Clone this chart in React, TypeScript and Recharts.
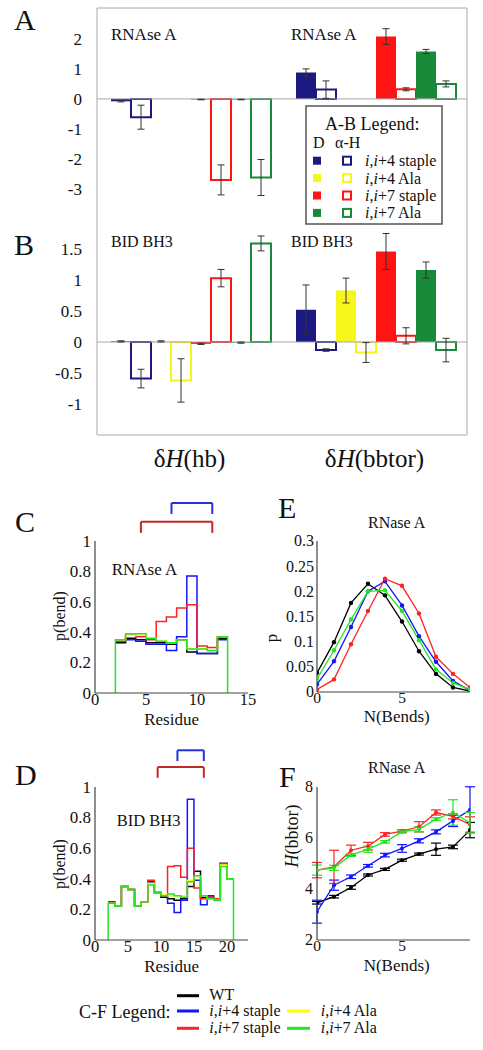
import React from 'react';
import { BarChart, Bar, LineChart, Line, XAxis, YAxis, ErrorBar, ReferenceLine } from 'recharts';

const FONT = '"Liberation Serif", "Times New Roman", Times, serif';
const INK = '#111';
const GRID = '#a8a8a8';
const FRAME = '#444';

// ---------------- Panels A / B (bar data) ----------------
const barCategories = ['hb', 'bbtor'];
const barKeys = ['i4StapleD', 'i4StapleH', 'i4AlaD', 'i4AlaH', 'i7StapleD', 'i7StapleH', 'i7AlaD', 'i7AlaH'];
const barColors = ['#1c1a80', '#1c1a80', '#f6f61a', '#f6f61a', '#ff1414', '#ff1414', '#188a3a', '#188a3a'];

// RNAse A (panel A)
const rnaseI4StapleD = [-0.08, 0.88];
const rnaseI4StapleDErr = [0.02, 0.12];
const rnaseI4StapleH = [-0.61, 0.31];
const rnaseI4StapleHErr = [0.4, 0.29];
const rnaseI4AlaD = [null, null];
const rnaseI4AlaDErr = [null, null];
const rnaseI4AlaH = [null, null];
const rnaseI4AlaHErr = [null, null];
const rnaseI7StapleD = [-0.02, 2.08];
const rnaseI7StapleDErr = [0.01, 0.26];
const rnaseI7StapleH = [-2.7, 0.32];
const rnaseI7StapleHErr = [0.5, 0.05];
const rnaseI7AlaD = [-0.02, 1.58];
const rnaseI7AlaDErr = [0.01, 0.07];
const rnaseI7AlaH = [-2.62, 0.5];
const rnaseI7AlaHErr = [0.6, 0.1];

// BID BH3 (panel B)
const bidI4StapleD = [0.01, 0.52];
const bidI4StapleDErr = [0.01, 0.4];
const bidI4StapleH = [-0.59, -0.13];
const bidI4StapleHErr = [0.15, 0.02];
const bidI4AlaD = [0.01, 0.83];
const bidI4AlaDErr = [0.01, 0.2];
const bidI4AlaH = [-0.62, -0.17];
const bidI4AlaHErr = [0.35, 0.16];
const bidI7StapleD = [-0.03, 1.46];
const bidI7StapleDErr = [0.01, 0.29];
const bidI7StapleH = [1.03, 0.1];
const bidI7StapleHErr = [0.14, 0.13];
const bidI7AlaD = [-0.01, 1.16];
const bidI7AlaDErr = [0.01, 0.13];
const bidI7AlaH = [1.59, -0.13];
const bidI7AlaHErr = [0.12, 0.19];

const aTicks = [-3, -2, -1, 0, 1, 2];
const bTicks = [-1, -0.5, 0, 0.5, 1, 1.5];

// ---------------- Panels C / D (p(bend) per residue) ----------------
const cStart = 2;
const cWT = [0.33, 0.36, 0.35, 0.33, 0.33, 0.32, 0.35, 0.27, 0.26, 0.26, 0.36];
const cI4Staple = [0.34, 0.35, 0.34, 0.32, 0.32, 0.28, 0.37, 0.77, 0.26, 0.26, 0.35];
const cI7Staple = [0.34, 0.38, 0.37, 0.35, 0.47, 0.5, 0.56, 0.58, 0.31, 0.3, 0.37];
const cI4Ala = [0.35, 0.38, 0.38, 0.36, 0.34, 0.33, 0.35, 0.29, 0.29, 0.28, 0.37];
const cI7Ala = [0.35, 0.39, 0.39, 0.36, 0.34, 0.33, 0.35, 0.29, 0.29, 0.28, 0.37];

const dStart = 2;
const dWT = [0.24, 0.22, 0.35, 0.33, 0.22, 0.25, 0.38, 0.31, 0.28, 0.27, 0.26, 0.27, 0.35, 0.45, 0.28, 0.28, 0.27, 0.5, 0.4];
const dI4Staple = [0.25, 0.22, 0.35, 0.33, 0.22, 0.25, 0.38, 0.31, 0.29, 0.24, 0.18, 0.26, 0.92, 0.39, 0.23, 0.29, 0.27, 0.5, 0.4];
const dI7Staple = [0.24, 0.22, 0.35, 0.33, 0.22, 0.25, 0.39, 0.31, 0.29, 0.48, 0.485, 0.41, 0.6, 0.34, 0.27, 0.28, 0.27, 0.5, 0.4];
const dI4Ala = [0.24, 0.22, 0.35, 0.33, 0.22, 0.25, 0.37, 0.31, 0.3, 0.29, 0.29, 0.29, 0.39, 0.41, 0.29, 0.27, 0.26, 0.49, 0.4];
const dI7Ala = [0.24, 0.22, 0.35, 0.33, 0.22, 0.25, 0.36, 0.31, 0.29, 0.3, 0.29, 0.28, 0.38, 0.42, 0.29, 0.27, 0.26, 0.48, 0.4];

// staple brackets (residue ranges)
const cBracketI4 = [7.5, 11.5];
const cBracketI7 = [4.5, 11.5];
const dBracketI4 = [12.5, 16.5];
const dBracketI7 = [9.5, 16.5];

// ---------------- Panel E (p vs N(Bends)) ----------------
const nBends = [0, 1, 2, 3, 4, 5, 6, 7, 8, 9];
const eWT = [0.038, 0.099, 0.177, 0.215, 0.192, 0.14, 0.081, 0.036, 0.009, 0.002];
const eI4Staple = [0.015, 0.061, 0.129, 0.2, 0.22, 0.172, 0.111, 0.06, 0.022, 0.003];
const eI7Staple = [0.005, 0.025, 0.095, 0.161, 0.225, 0.211, 0.156, 0.07, 0.036, 0.009];
const eI7Ala = [0.026, 0.083, 0.144, 0.2, 0.202, 0.161, 0.103, 0.045, 0.018, 0.005];

// ---------------- Panel F (H(bbtor) vs N(Bends)) ----------------
const fWT = [3.46, 3.7, 4.06, 4.55, 4.77, 5.13, 5.37, 5.56, 5.65, 6.31];
const fWTErr = [0.05, 0.05, 0.07, 0.04, 0.04, 0.04, 0.04, 0.24, 0.07, 0.3];
const fI4Staple = [3.11, 4.15, 4.48, 4.91, 5.33, 5.59, 5.89, 6.24, 6.67, 7.11];
const fI4StapleErr = [0.45, 0.2, 0.07, 0.05, 0.07, 0.15, 0.08, 0.08, 0.22, 0.9];
const fI7Staple = [4.74, 4.87, 5.52, 5.68, 6.14, 6.27, 6.44, 7.0, 6.85, 6.53];
const fI7StapleErr = [0.3, 0.65, 0.2, 0.15, 0.07, 0.05, 0.2, 0.1, 0.1, 0.3];
const fI7Ala = [4.74, 4.83, 5.33, 5.56, 5.85, 6.24, 6.34, 6.74, 7.0, 6.6];
const fI7AlaErr = [0.2, 0.1, 0.05, 0.12, 0.05, 0.04, 0.1, 0.05, 0.5, 0.4];

const C_BLACK = '#000000';
const C_BLUE = '#1414ff';
const C_RED = '#ff2222';
const C_YELLOW = '#ffff00';
const C_GREEN = '#22e622';
const BR_BLUE = '#2233dd';
const BR_RED = '#c0282c';

// ---------------- builders ----------------
function buildBarRows(values: (number | null)[][], errors: (number | null)[][]) {
  return barCategories.map((cat, i) => {
    const row: Record<string, any> = { cat };
    barKeys.forEach((k, j) => {
      row[k] = values[j][i];
      row[k + 'Err'] = errors[j][i];
    });
    return row;
  });
}

const rowsA = buildBarRows(
  [rnaseI4StapleD, rnaseI4StapleH, rnaseI4AlaD, rnaseI4AlaH, rnaseI7StapleD, rnaseI7StapleH, rnaseI7AlaD, rnaseI7AlaH],
  [rnaseI4StapleDErr, rnaseI4StapleHErr, rnaseI4AlaDErr, rnaseI4AlaHErr, rnaseI7StapleDErr, rnaseI7StapleHErr, rnaseI7AlaDErr, rnaseI7AlaHErr]
);
const rowsB = buildBarRows(
  [bidI4StapleD, bidI4StapleH, bidI4AlaD, bidI4AlaH, bidI7StapleD, bidI7StapleH, bidI7AlaD, bidI7AlaH],
  [bidI4StapleDErr, bidI4StapleHErr, bidI4AlaDErr, bidI4AlaHErr, bidI7StapleDErr, bidI7StapleHErr, bidI7AlaDErr, bidI7AlaHErr]
);

// histogram outline; only the top-most series closes down to zero at its ends
function stepPoints(start: number, vals: number[], closed: boolean) {
  const pts: { x: number; y: number }[] = [];
  if (closed) pts.push({ x: start, y: 0 });
  vals.forEach((v, i) => pts.push({ x: start + i, y: v }));
  pts.push({ x: start + vals.length, y: vals[vals.length - 1] });
  if (closed) pts.push({ x: start + vals.length, y: 0 });
  return pts;
}

const eRows = nBends.map((n, i) => ({ n, wt: eWT[i], i4s: eI4Staple[i], i7s: eI7Staple[i], i7a: eI7Ala[i] }));
const fRows = nBends.map((n, i) => ({
  n,
  wt: fWT[i], wtErr: fWTErr[i],
  i4s: fI4Staple[i], i4sErr: fI4StapleErr[i],
  i7s: fI7Staple[i], i7sErr: fI7StapleErr[i],
  i7a: fI7Ala[i], i7aErr: fI7AlaErr[i],
}));

function renderBars() {
  return barKeys.map((k, j) => {
    const open = k.endsWith('H');
    return (
      <Bar
        key={k}
        dataKey={k}
        fill={open ? '#ffffff' : barColors[j]}
        stroke={open ? barColors[j] : 'none'}
        strokeWidth={open ? 2 : 0}
        isAnimationActive={false}
      >
        <ErrorBar dataKey={k + 'Err'} width={3.5} stroke="#333" strokeWidth={1} direction="y" />
      </Bar>
    );
  });
}

const txtStyle = (fontSize: number): React.CSSProperties => ({ fontFamily: FONT, fontSize, fill: INK });

const yTick = (fontSize: number) => (props: any) => {
  const { x, y, payload } = props;
  return (
    <text x={x} y={y} dy={fontSize * 0.34} textAnchor="end" style={txtStyle(fontSize)}>
      {String(payload.value)}
    </text>
  );
};
const xTick = (fontSize: number) => (props: any) => {
  const { x, y, payload } = props;
  return (
    <text x={x} y={y} dy={fontSize * 0.7} textAnchor="middle" style={txtStyle(fontSize)}>
      {String(payload.value)}
    </text>
  );
};

const HTick = (props: any) => {
  const { x, y, payload } = props;
  return (
    <text x={x} y={y} dy={32} textAnchor="middle" style={txtStyle(25)}>
      δ<tspan style={{ fontStyle: 'italic' }}>H</tspan>({payload.value})
    </text>
  );
};

function frameAxes(
  xDomain: [number, number],
  yDomain: [number, number],
  xMajor: number[],
  xMinor: number[],
  yMajor: number[],
  yMinor: number[]
) {
  const tl = { stroke: FRAME, strokeWidth: 1 };
  const al = { stroke: FRAME, strokeWidth: 1.2 };
  const xa = (id: string, orientation: 'top' | 'bottom', ticks: number[], size: number, line: boolean) => (
    <XAxis
      key={id}
      xAxisId={id}
      type="number"
      domain={xDomain}
      allowDataOverflow
      ticks={ticks}
      interval={0}
      orientation={orientation}
      mirror
      height={0}
      tick={false}
      tickSize={size}
      tickLine={tl}
      axisLine={line ? al : false}
    />
  );
  const ya = (id: string, orientation: 'left' | 'right', ticks: number[], size: number, line: boolean) => (
    <YAxis
      key={id}
      yAxisId={id}
      type="number"
      domain={yDomain}
      allowDataOverflow
      ticks={ticks}
      interval={0}
      orientation={orientation}
      mirror
      width={0}
      tick={false}
      tickSize={size}
      tickLine={tl}
      axisLine={line ? al : false}
    />
  );
  return [
    xa('bMj', 'bottom', xMajor, 7, false),
    xa('bMn', 'bottom', xMinor, 4, false),
    xa('tMj', 'top', xMajor, 7, true),
    xa('tMn', 'top', xMinor, 4, false),
    ya('lMj', 'left', yMajor, 7, false),
    ya('lMn', 'left', yMinor, 4, false),
    ya('rMj', 'right', yMajor, 7, true),
    ya('rMn', 'right', yMinor, 4, false),
  ];
}

function bracket(key: string, range: number[], top: number, leg: number, color: string) {
  const common = { xAxisId: 'x', yAxisId: 'y', stroke: color, strokeWidth: 2, ifOverflow: 'visible' as const };
  return [
    <ReferenceLine key={key + 'l'} {...common} segment={[{ x: range[0], y: leg }, { x: range[0], y: top }]} />,
    <ReferenceLine key={key + 't'} {...common} segment={[{ x: range[0], y: top }, { x: range[1], y: top }]} />,
    <ReferenceLine key={key + 'r'} {...common} segment={[{ x: range[1], y: top }, { x: range[1], y: leg }]} />,
  ];
}

const rotTitle = (x: number, y: number, content: React.ReactNode, size = 17) => () => (
  <text x={x} y={y} transform={`rotate(-90 ${x} ${y})`} textAnchor="middle" style={txtStyle(size)}>
    {content}
  </text>
);
const flatTitle = (x: number, y: number, content: React.ReactNode, size = 17) => () => (
  <text x={x} y={y} textAnchor="middle" style={txtStyle(size)}>
    {content}
  </text>
);

const frameLine = { stroke: FRAME, strokeWidth: 1.2 };

function stepLines(series: { pts: { x: number; y: number }[]; color: string; name: string }[]) {
  return series.map((s) => (
    <Line
      key={s.name}
      xAxisId="x"
      yAxisId="y"
      data={s.pts}
      dataKey="y"
      name={s.name}
      type="stepAfter"
      stroke={s.color}
      strokeWidth={1.5}
      dot={false}
      isAnimationActive={false}
    />
  ));
}

const yMinorPbend = [0.1, 0.3, 0.5, 0.7, 0.9];
const yMajorPbend = [0, 0.2, 0.4, 0.6, 0.8, 1];

const It = ({ children }: { children: React.ReactNode }) => <tspan style={{ fontStyle: 'italic' }}>{children}</tspan>;
const iLabel = (suffix: string) => (
  <>
    <It>i</It>,<It>i</It>
    {suffix}
  </>
);

const abLegendRows = [
  { color: barColors[0], suffix: '+4 staple' },
  { color: barColors[2], suffix: '+4 Ala' },
  { color: barColors[4], suffix: '+7 staple' },
  { color: barColors[6], suffix: '+7 Ala' },
];

const eSeries = [
  { k: 'wt', c: C_BLACK },
  { k: 'i4s', c: C_BLUE },
  { k: 'i7s', c: C_RED },
  { k: 'i7a', c: C_GREEN },
];

export default function App() {
  return (
    <div style={{ position: 'absolute', left: 0, top: 0, width: 483, height: 1050, background: '#fff', fontFamily: FONT }}>
      {/* Panel A */}
      <div style={{ position: 'absolute', left: 0, top: 0 }}>
        <BarChart width={483} height={219} data={rowsA} margin={{ top: 8, right: 16, bottom: 1, left: 0 }} barCategoryGap={14} barGap={0}>
          <XAxis dataKey="cat" height={0} tick={false} tickLine={false} axisLine={{ stroke: GRID }} />
          <XAxis xAxisId="num" type="number" domain={[0, 2]} allowDataOverflow hide />
          <YAxis
            type="number"
            domain={[-3.97, 3.03]}
            ticks={aTicks}
            interval={0}
            width={97}
            tickSize={0}
            tickMargin={15}
            tickLine={false}
            axisLine={{ stroke: GRID }}
            tick={yTick(17)}
          />
          <ReferenceLine y={0} stroke={GRID} />
          <ReferenceLine y={3.03} stroke={GRID} />
          <ReferenceLine xAxisId="num" x={1} stroke={GRID} />
          <ReferenceLine xAxisId="num" x={2} stroke={GRID} />
          {renderBars()}
        </BarChart>
      </div>

      {/* Panel B */}
      <div style={{ position: 'absolute', left: 0, top: 218 }}>
        <BarChart width={483} height={267} data={rowsB} margin={{ top: 0, right: 16, bottom: 0, left: 0 }} barCategoryGap={14} barGap={0}>
          <XAxis dataKey="cat" height={50} tickSize={0} tickMargin={0} tickLine={false} axisLine={{ stroke: GRID }} tick={HTick} interval={0} />
          <XAxis xAxisId="num" type="number" domain={[0, 2]} allowDataOverflow hide />
          <YAxis
            type="number"
            domain={[-1.5, 2]}
            ticks={bTicks}
            interval={0}
            width={97}
            tickSize={0}
            tickMargin={15}
            tickLine={false}
            axisLine={{ stroke: GRID }}
            tick={yTick(17)}
          />
          <ReferenceLine y={0} stroke={GRID} />
          <ReferenceLine xAxisId="num" x={1} stroke={GRID} />
          <ReferenceLine xAxisId="num" x={2} stroke={GRID} />
          {renderBars()}
        </BarChart>
      </div>

      {/* Panel C */}
      <div style={{ position: 'absolute', left: 0, top: 495 }}>
        <LineChart width={262} height={238} margin={{ top: 46, right: 14, bottom: 0, left: 0 }}>
          {frameAxes([0, 15], [0, 1], [0, 5, 10, 15], [2.5, 7.5, 12.5], yMajorPbend, yMinorPbend)}
          <XAxis
            xAxisId="x"
            dataKey="x"
            type="number"
            domain={[0, 15]}
            allowDataOverflow
            ticks={[0, 5, 10, 15]}
            interval={0}
            height={40}
            tickSize={0}
            tickMargin={0}
            tickLine={false}
            axisLine={frameLine}
            tick={xTick(16.5)}
            label={flatTitle(171.6, 230, 'Residue', 17)}
          />
          <YAxis
            yAxisId="y"
            type="number"
            domain={[0, 1]}
            allowDataOverflow
            ticks={yMajorPbend}
            interval={0}
            width={95}
            tickSize={0}
            tickMargin={4}
            tickLine={false}
            axisLine={frameLine}
            tick={yTick(17)}
            label={rotTitle(64.5, 121, 'p(bend)', 16)}
          />
          {bracket('cb4', cBracketI4, 1.25, 1.178, BR_BLUE)}
          {bracket('cb7', cBracketI7, 1.127, 1.053, BR_RED)}
          {stepLines([
            { name: 'WT', color: C_BLACK, pts: stepPoints(cStart, cWT, false) },
            { name: 'i,i+4 staple', color: C_BLUE, pts: stepPoints(cStart, cI4Staple, false) },
            { name: 'i,i+7 staple', color: C_RED, pts: stepPoints(cStart, cI7Staple, false) },
            { name: 'i,i+4 Ala', color: C_YELLOW, pts: stepPoints(cStart, cI4Ala, false) },
            { name: 'i,i+7 Ala', color: C_GREEN, pts: stepPoints(cStart, cI7Ala, true) },
          ])}
        </LineChart>
      </div>

      {/* Panel D */}
      <div style={{ position: 'absolute', left: 0, top: 745 }}>
        <LineChart width={262} height={235} margin={{ top: 42, right: 14, bottom: 0, left: 0 }}>
          {frameAxes([0, 23.2], [0, 1], [0, 5, 10, 15, 20], [2.5, 7.5, 12.5, 17.5, 22.5], yMajorPbend, yMinorPbend)}
          <XAxis
            xAxisId="x"
            dataKey="x"
            type="number"
            domain={[0, 23.2]}
            allowDataOverflow
            ticks={[0, 5, 10, 15, 20]}
            interval={0}
            height={40}
            tickSize={0}
            tickMargin={0}
            tickLine={false}
            axisLine={frameLine}
            tick={xTick(16.5)}
            label={flatTitle(171.6, 227, 'Residue', 17)}
          />
          <YAxis
            yAxisId="y"
            type="number"
            domain={[0, 1]}
            allowDataOverflow
            ticks={yMajorPbend}
            interval={0}
            width={95}
            tickSize={0}
            tickMargin={4}
            tickLine={false}
            axisLine={frameLine}
            tick={yTick(17)}
            label={rotTitle(64.5, 119, 'p(bend)', 16)}
          />
          {bracket('db4', dBracketI4, 1.24, 1.17, BR_BLUE)}
          {bracket('db7', dBracketI7, 1.13, 1.06, BR_RED)}
          {stepLines([
            { name: 'WT', color: C_BLACK, pts: stepPoints(dStart, dWT, false) },
            { name: 'i,i+4 staple', color: C_BLUE, pts: stepPoints(dStart, dI4Staple, false) },
            { name: 'i,i+7 staple', color: C_RED, pts: stepPoints(dStart, dI7Staple, false) },
            { name: 'i,i+4 Ala', color: C_YELLOW, pts: stepPoints(dStart, dI4Ala, false) },
            { name: 'i,i+7 Ala', color: C_GREEN, pts: stepPoints(dStart, dI7Ala, true) },
          ])}
        </LineChart>
      </div>

      {/* Panel E */}
      <div style={{ position: 'absolute', left: 250, top: 530 }}>
        <LineChart width={233} height={199} data={eRows} margin={{ top: 11, right: 13, bottom: 0, left: 0 }}>
          {frameAxes(
            [0, 9],
            [0, 0.3],
            [0, 5],
            [2.5, 7.5],
            [0, 0.05, 0.1, 0.15, 0.2, 0.25, 0.3],
            [0.025, 0.075, 0.125, 0.175, 0.225, 0.275]
          )}
          <XAxis
            xAxisId="x"
            dataKey="n"
            type="number"
            domain={[0, 9]}
            allowDataOverflow
            ticks={[0, 5]}
            interval={0}
            height={37}
            tickSize={0}
            tickMargin={0}
            tickLine={false}
            axisLine={frameLine}
            tick={xTick(15.5)}
            label={flatTitle(146.7, 192, 'N(Bends)', 17)}
          />
          <YAxis
            yAxisId="y"
            type="number"
            domain={[0, 0.3]}
            allowDataOverflow
            ticks={[0, 0.05, 0.1, 0.15, 0.2, 0.25, 0.3]}
            interval={0}
            width={67}
            tickSize={0}
            tickMargin={3}
            tickLine={false}
            axisLine={frameLine}
            tick={yTick(16)}
            label={rotTitle(27, 108, 'p', 17)}
          />
          {eSeries.map((s) => (
            <Line
              key={s.k}
              xAxisId="x"
              yAxisId="y"
              dataKey={s.k}
              type="linear"
              stroke={s.c}
              strokeWidth={1.3}
              dot={{ r: 2.2, fill: s.c, stroke: s.c, strokeWidth: 0 }}
              isAnimationActive={false}
            />
          ))}
        </LineChart>
      </div>

      {/* Panel F */}
      <div style={{ position: 'absolute', left: 250, top: 775 }}>
        <LineChart width={233} height={203} data={fRows} margin={{ top: 12, right: 13, bottom: 0, left: 0 }}>
          {frameAxes([0, 9], [2, 8], [0, 5], [2.5, 7.5], [2, 4, 6, 8], [3, 5, 7])}
          <XAxis
            xAxisId="x"
            dataKey="n"
            type="number"
            domain={[0, 9]}
            allowDataOverflow
            ticks={[0, 5]}
            interval={0}
            height={38}
            tickSize={0}
            tickMargin={0}
            tickLine={false}
            axisLine={frameLine}
            tick={xTick(15.5)}
            label={flatTitle(146.7, 195.5, 'N(Bends)', 17)}
          />
          <YAxis
            yAxisId="y"
            type="number"
            domain={[2, 8]}
            allowDataOverflow
            ticks={[2, 4, 6, 8]}
            interval={0}
            width={67}
            tickSize={0}
            tickMargin={4}
            tickLine={false}
            axisLine={frameLine}
            tick={yTick(16)}
            label={rotTitle(48, 61, <><It>H</It>(bbtor)</>, 18)}
          />
          {eSeries.map((s) => (
            <Line
              key={s.k}
              xAxisId="x"
              yAxisId="y"
              dataKey={s.k}
              type="linear"
              stroke={s.c}
              strokeWidth={1.3}
              dot={{ r: 2, fill: s.c, stroke: s.c, strokeWidth: 0 }}
              isAnimationActive={false}
            >
              <ErrorBar dataKey={s.k + 'Err'} width={5} stroke={s.c} strokeWidth={1.2} direction="y" />
            </Line>
          ))}
        </LineChart>
      </div>

      {/* Annotations, titles and legends */}
      <svg
        width={483}
        height={1050}
        style={{ position: 'absolute', left: 0, top: 0, pointerEvents: 'none', fontFamily: FONT }}
        fill={INK}
      >
        <text x={14} y={30} fontSize={30}>A</text>
        <text x={14} y={255} fontSize={30}>B</text>
        <text x={15} y={532} fontSize={30}>C</text>
        <text x={15} y={785} fontSize={30}>D</text>
        <text x={278} y={518} fontSize={30}>E</text>
        <text x={279} y={787} fontSize={30}>F</text>

        <text x={111} y={39.5} fontSize={17}>RNAse A</text>
        <text x={291} y={39.5} fontSize={17}>RNAse A</text>
        <text x={111} y={246.7} fontSize={16}>BID BH3</text>
        <text x={291} y={246.7} fontSize={16}>BID BH3</text>
        <text x={111.7} y={575} fontSize={17}>RNAse A</text>
        <text x={116.7} y={826} fontSize={16.5}>BID BH3</text>
        <text x={396.7} y={528} fontSize={16} textAnchor="middle">RNase A</text>
        <text x={396.7} y={773} fontSize={16} textAnchor="middle">RNase A</text>

        {/* A-B legend */}
        <rect x={306} y={106} width={136} height={118} fill="#ffffff" stroke="#555" strokeWidth={1.5} />
        <text x={325} y={129.5} fontSize={18}>A-B Legend:</text>
        <text x={313} y={148} fontSize={16}>D</text>
        <text x={335} y={148} fontSize={16}>α-H</text>
        {abLegendRows.map((r, i) => {
          const cy = 160.7 + i * 17.4;
          return (
            <g key={i}>
              <rect x={313} y={cy - 4} width={8} height={8} fill={r.color} />
              <rect x={343} y={cy - 4} width={8} height={8} fill="#ffffff" stroke={r.color} strokeWidth={2} />
              <text x={365} y={cy + 5.5} fontSize={16}>{iLabel(r.suffix)}</text>
            </g>
          );
        })}

        {/* C-F legend */}
        <text x={79} y={1017.5} fontSize={18}>C-F Legend:</text>
        <line x1={177} y1={995.7} x2={199} y2={995.7} stroke={C_BLACK} strokeWidth={3} />
        <line x1={177} y1={1011} x2={199} y2={1011} stroke={C_BLUE} strokeWidth={3} />
        <line x1={177} y1={1028.3} x2={199} y2={1028.3} stroke={C_RED} strokeWidth={3} />
        <line x1={287} y1={1011} x2={310} y2={1011} stroke={C_YELLOW} strokeWidth={3} />
        <line x1={287} y1={1028.3} x2={310} y2={1028.3} stroke={C_GREEN} strokeWidth={3} />
        <text x={209.3} y={1000} fontSize={16}>WT</text>
        <text x={209.3} y={1015.5} fontSize={16}>{iLabel('+4 staple')}</text>
        <text x={209.3} y={1032.5} fontSize={16}>{iLabel('+7 staple')}</text>
        <text x={320.7} y={1015.5} fontSize={16}>{iLabel('+4 Ala')}</text>
        <text x={320.7} y={1032.5} fontSize={16}>{iLabel('+7 Ala')}</text>
      </svg>
    </div>
  );
}
